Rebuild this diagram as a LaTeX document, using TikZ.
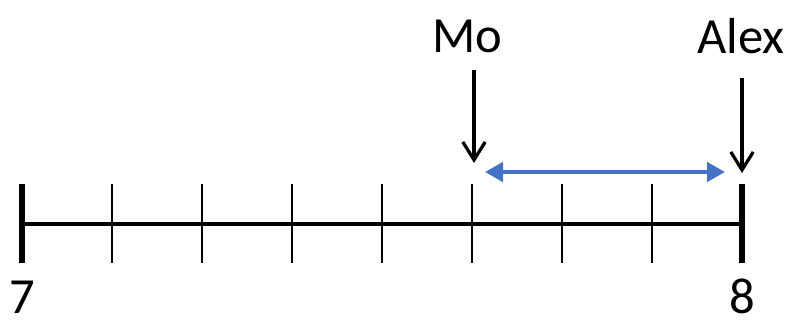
\documentclass[tikz,border=0pt]{standalone}
\usepackage{fontspec}
\setmainfont{Carlito}
\usetikzlibrary{arrows.meta}
\definecolor{gapblue}{RGB}{68,114,196}
\tikzset{
  lbl/.style={font=\fontsize{36}{40}\selectfont,inner sep=0pt},
  axis/.style={line width=3.2pt},
  endtick/.style={line width=3.6pt},
  minortick/.style={line width=1.3pt},
  pointer/.style={line width=2.3pt,-{Straight Barb[length=0.45cm,width=0.56cm]}},
  gap/.style={gapblue,line width=2.8pt,{Triangle[length=0.45cm,width=0.48cm]}-{Triangle[length=0.45cm,width=0.48cm]}}
}

\begin{document}
\begin{tikzpicture}
\useasboundingbox (0,0) rectangle (19.75,-8.1);
% number line
\coordinate (n0) at (0.55,-5.6);
\coordinate (n8) at (18.55,-5.6);
\draw[axis] (n0) -- (n8);
\draw[endtick] (0.55,-4.6) -- (0.55,-6.575);
\draw[endtick] (18.55,-4.6) -- (18.55,-6.575);
\foreach \i in {1,...,7}
  \draw[minortick] ({0.55+2.25*\i},-4.6) -- ({0.55+2.25*\i},-6.575);
\node[lbl] (seven) at (0.55,-7.42) {7};
\node[lbl] (eight) at (18.55,-7.42) {8};
% names and pointers
\node[lbl] (mo) at (11.675,-0.9) {Mo};
\node[lbl] (alex) at (18.525,-0.9) {Alex};
\coordinate (mo top) at (11.85,-1.75);
\coordinate (mo tip) at (11.85,-4.075);
\coordinate (alex top) at (18.55,-1.95);
\coordinate (alex tip) at (18.55,-4.325);
\draw[pointer] (mo top) -- (mo tip);
\draw[pointer] (alex top) -- (alex tip);
% distance between them
\coordinate (gap l) at (12.125,-4.3);
\coordinate (gap r) at (18.125,-4.3);
\draw[gap] (gap l) -- (gap r);
\end{tikzpicture}
\end{document}
